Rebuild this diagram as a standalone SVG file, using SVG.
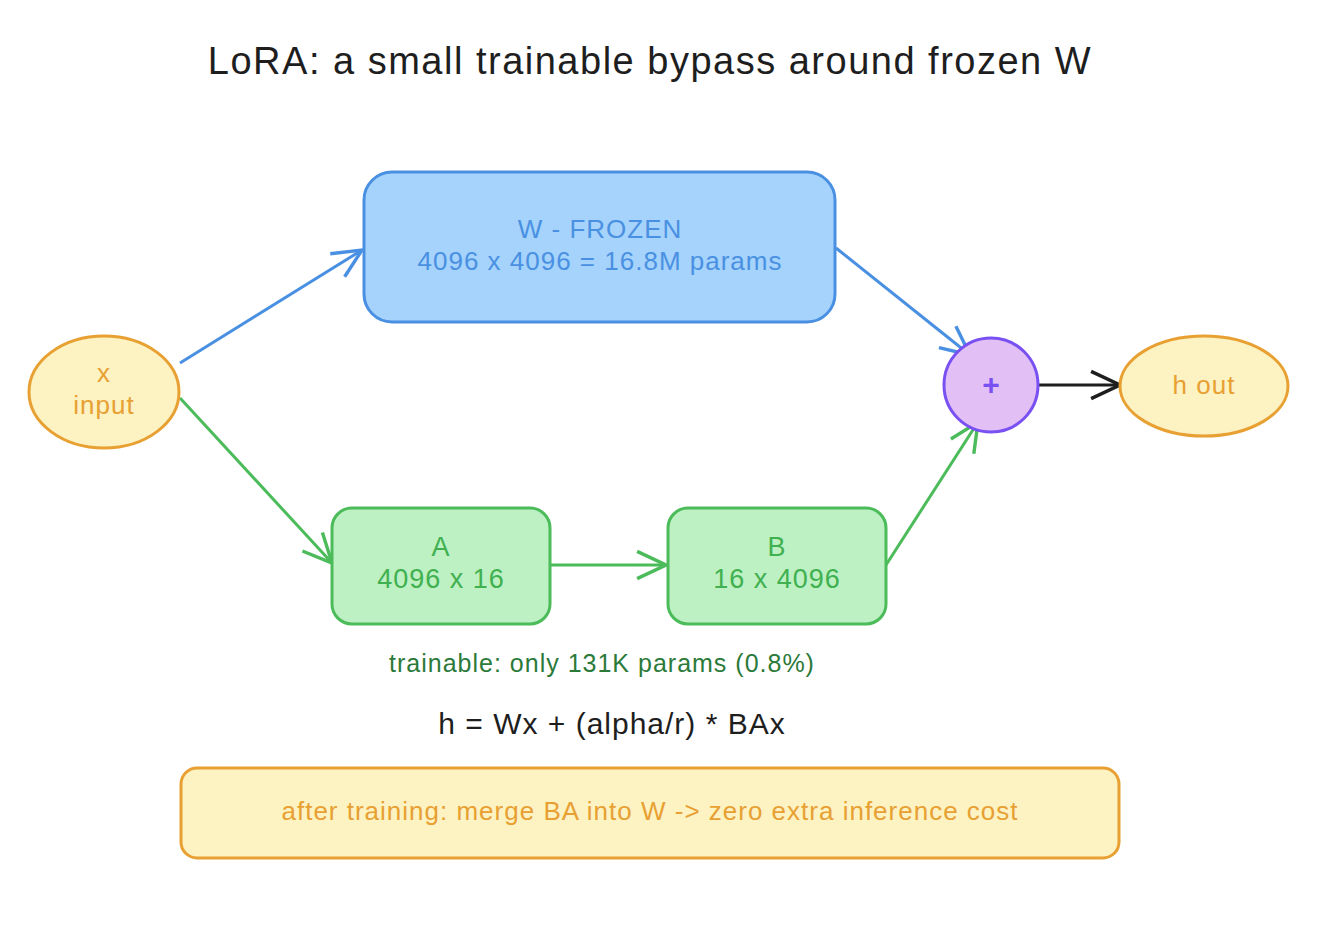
<svg xmlns="http://www.w3.org/2000/svg" width="1320" height="938" viewBox="0 0 1320 938">
<defs>
<style>
text{font-family:"Liberation Sans","DejaVu Sans",sans-serif;text-anchor:middle}
.t{font-size:38px;fill:#1e1e1e;letter-spacing:1.5px}
.blue{fill:#a5d3fc;stroke:#4a90e2;stroke-width:3}
.green{fill:#bdf0c2;stroke:#4cbb5a;stroke-width:3}
.yel{fill:#fcf2c2;stroke:#e8a032;stroke-width:3}
.bl{fill:#4a90e2;font-size:26px;letter-spacing:1px}
.gr{fill:#40b050;font-size:27px;letter-spacing:1px}
.ye{fill:#e8a032;font-size:26px;letter-spacing:1px}
</style>
<marker id="a" viewBox="0 0 20 20" refX="19" refY="10" markerWidth="34" markerHeight="34" orient="auto" markerUnits="userSpaceOnUse"><path d="M2,2L19,10L2,18" fill="none" stroke="context-stroke" stroke-width="2"/></marker>
</defs>
<rect width="1320" height="938" fill="#fff"/>
<text x="650" y="74" class="t">LoRA: a small trainable bypass around frozen W</text>
<g id="connectors" fill="none" stroke-width="3">
<line x1="180" y1="363" x2="362" y2="250" stroke="#4a90e2" marker-end="url(#a)"/>
<line x1="836" y1="248" x2="970" y2="355" stroke="#4a90e2" marker-end="url(#a)"/>
<line x1="180" y1="398" x2="332" y2="563" stroke="#4cbb5a" marker-end="url(#a)"/>
<line x1="550" y1="565" x2="666" y2="565" stroke="#4cbb5a" marker-end="url(#a)"/>
<line x1="886" y1="565" x2="978" y2="422" stroke="#4cbb5a" marker-end="url(#a)"/>
<line x1="1038" y1="385" x2="1120" y2="385" stroke="#1e1e1e" marker-end="url(#a)"/>
</g>
<g id="x"><ellipse cx="104" cy="392" rx="75" ry="56" class="yel"/><text x="104" y="382" class="ye">x</text><text x="104" y="414" class="ye">input</text></g>
<g id="W"><rect x="364" y="172" width="471" height="150" rx="28" class="blue"/><text x="600" y="238" class="bl">W - FROZEN</text><text x="600" y="270" class="bl">4096 x 4096 = 16.8M params</text></g>
<g id="A"><rect x="332" y="508" width="218" height="116" rx="20" class="green"/><text x="441" y="556" class="gr">A</text><text x="441" y="588" class="gr">4096 x 16</text></g>
<g id="B"><rect x="668" y="508" width="218" height="116" rx="20" class="green"/><text x="777" y="556" class="gr">B</text><text x="777" y="588" class="gr">16 x 4096</text></g>
<g id="plus"><circle cx="991" cy="385" r="47" fill="#e2bff5" stroke="#7950f2" stroke-width="3"/><text x="991" y="395" font-size="30" font-weight="bold" fill="#7950f2">+</text></g>
<g id="out"><ellipse cx="1204" cy="386" rx="84" ry="50" class="yel"/><text x="1204" y="394" class="ye">h out</text></g>
<text x="602" y="672" font-size="25" letter-spacing="1" fill="#2b7a3a">trainable: only 131K params (0.8%)</text>
<text x="612" y="734" font-size="30" letter-spacing="1" fill="#1e1e1e">h = Wx + (alpha/r) * BAx</text>
<g id="note"><rect x="181" y="768" width="938" height="90" rx="16" class="yel"/><text x="650" y="820" class="ye">after training: merge BA into W -&gt; zero extra inference cost</text></g>
</svg>
